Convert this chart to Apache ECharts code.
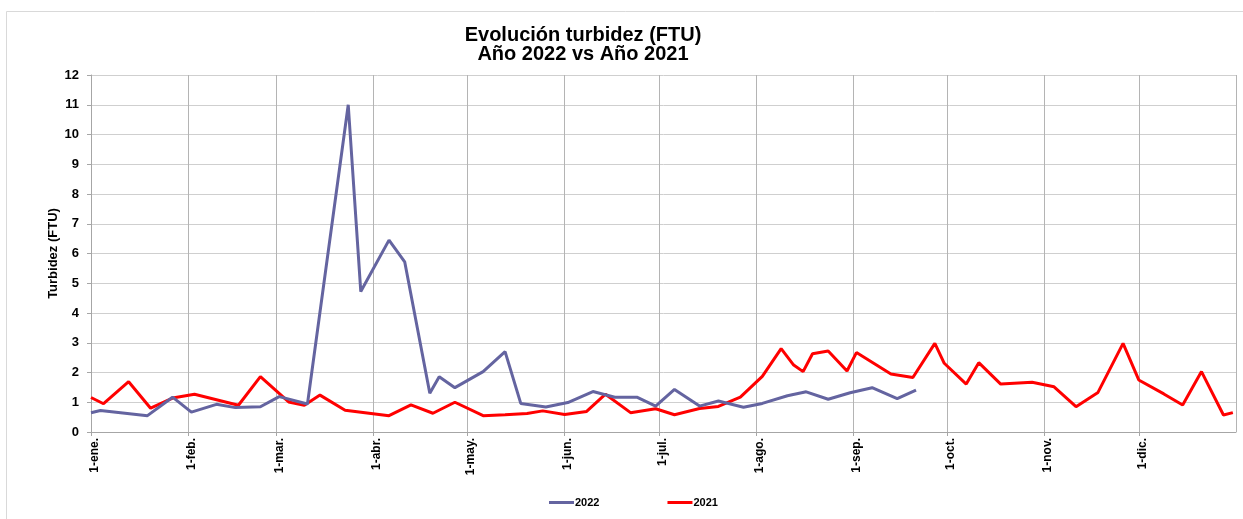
<!DOCTYPE html>
<html>
<head>
<meta charset="utf-8">
<script src="https://cdn.jsdelivr.net/npm/echarts@6/dist/echarts.min.js"></script>
<style>
html,body{margin:0;padding:0;background:#fff;}
#chart{width:1243px;height:519px;}
</style>
</head>
<body>
<div id="chart"></div>
<script>
// Month tick labels (Spanish abbreviations)
const monthLabels = ['ene.', 'feb.', 'mar.', 'abr.', 'may.', 'jun.', 'jul.', 'ago.', 'sep.', 'oct.', 'nov.', 'dic.'];

// Series names
const seriesNames = ['2022', '2021'];

// 2022 readings (month-day) and turbidity values (FTU)
const dates2022 = ['01-01','01-04','01-19','01-27','02-02','02-10','02-16','02-24','03-02','03-11',
  '03-24','03-28','04-06','04-11','04-19','04-22','04-27','05-06','05-13','05-18',
  '05-26','06-02','06-10','06-17','06-24','06-30','07-06','07-14','07-20','07-28',
  '08-03','08-11','08-17','08-24','08-31','09-07','09-15','09-21'];
const values2022 = [0.65,0.72,0.55,1.17,0.67,0.93,0.82,0.85,1.19,0.94,
  11.0,4.72,6.45,5.72,1.30,1.86,1.49,2.03,2.70,0.96,
  0.84,0.99,1.36,1.17,1.17,0.87,1.43,0.87,1.04,0.83,
  0.96,1.22,1.35,1.10,1.32,1.49,1.12,1.41];

// 2021 readings (month-day) and turbidity values (FTU)
const dates2021 = ['01-01','01-05','01-13','01-20','01-27','02-03','02-17','02-24','03-05','03-10',
  '03-15','03-23','03-30','04-06','04-13','04-20','04-27','05-06','05-13','05-20',
  '05-25','06-01','06-08','06-14','06-22','06-30','07-06','07-14','07-20','07-27',
  '08-03','08-09','08-13','08-16','08-19','08-24','08-30','09-02','09-13','09-20',
  '09-27','09-30','10-07','10-11','10-18','10-28','11-04','11-11','11-18','11-26',
  '12-01','12-09','12-15','12-21','12-28','12-31'];
const values2021 = [1.16,0.95,1.69,0.80,1.14,1.27,0.90,1.86,1.01,0.90,
  1.24,0.73,0.64,0.55,0.91,0.63,1.00,0.55,0.58,0.62,
  0.71,0.59,0.69,1.27,0.65,0.78,0.58,0.79,0.86,1.17,
  1.87,2.80,2.25,2.03,2.63,2.72,2.05,2.67,1.95,1.83,
  2.98,2.31,1.61,2.33,1.61,1.67,1.52,0.85,1.33,2.98,
  1.75,1.28,0.91,2.03,0.57,0.65];

// Both years are plotted over a common Jan–Dec axis
const BASE_YEAR = 2022;
function toTime(md) {
  const p = md.split('-');
  return new Date(BASE_YEAR, parseInt(p[0], 10) - 1, parseInt(p[1], 10)).getTime();
}
function pairs(dates, vals) {
  return dates.map((d, i) => [toTime(d), vals[i]]);
}

const FONT = 'Liberation Sans, Arial, sans-serif';
const DAY = 86400000;

const chart = echarts.init(document.getElementById('chart'), null, {renderer: 'canvas'});
chart.setOption({
  animation: false,
  backgroundColor: '#ffffff',
  graphic: [{
    type: 'rect', left: 4, top: 9, silent: true, z: -10,
    shape: {width: 1260, height: 530},
    style: {fill: 'none', stroke: '#d9d9d9', lineWidth: 1}
  }],
  title: {
    text: 'Evolución turbidez (FTU)\nAño 2022 vs Año 2021',
    left: 578, top: 21, textAlign: 'center',
    textStyle: {fontFamily: FONT, fontSize: 20, fontWeight: 'bold', color: '#000', lineHeight: 19}
  },
  legend: {
    data: seriesNames,
    left: 544, top: 492,
    itemGap: 68, itemWidth: 25, itemHeight: 3, icon: 'rect',
    textStyle: {fontFamily: FONT, fontSize: 11, fontWeight: 'bold', color: '#000', padding: [0, 0, 0, -4]}
  },
  grid: {left: 91, right: 7, top: 75, bottom: 87, containLabel: false},
  xAxis: {
    type: 'time',
    min: new Date(BASE_YEAR, 0, 1).getTime(),
    max: new Date(BASE_YEAR + 1, 0, 1).getTime(),
    minInterval: 28 * DAY,
    maxInterval: 31 * DAY,
    axisLine: {show: true, lineStyle: {color: '#a6a6a6', width: 1}},
    axisTick: {show: true, length: 4, lineStyle: {color: '#a6a6a6'}},
    splitLine: {show: true, lineStyle: {color: '#b4b4b4', width: 1}},
    axisLabel: {
      rotate: 90, fontFamily: FONT, fontSize: 12, fontWeight: 'bold', color: '#000',
      margin: 6, showMaxLabel: false, hideOverlap: false, padding: [7, 0, 0, 0],
      formatter: function (v) {
        const d = new Date(v);
        return d.getDate() + '-' + monthLabels[d.getMonth()];
      }
    }
  },
  yAxis: {
    type: 'value',
    min: 0, max: 12, interval: 1,
    name: 'Turbidez (FTU)',
    nameLocation: 'middle', nameRotate: 90, nameGap: 31, nameMoveOverlap: false,
    nameTextStyle: {fontFamily: FONT, fontSize: 13, fontWeight: 'bold', color: '#000'},
    axisLine: {show: true, lineStyle: {color: '#a6a6a6', width: 1}},
    axisTick: {show: true, length: 4, lineStyle: {color: '#a6a6a6'}},
    splitLine: {show: true, lineStyle: {color: '#cfcfcf', width: 1}},
    axisLabel: {fontFamily: FONT, fontSize: 13, fontWeight: 'bold', color: '#000', margin: 12}
  },
  series: [
    {
      name: seriesNames[0], type: 'line', data: pairs(dates2022, values2022),
      showSymbol: false, symbol: 'none', smooth: false,
      lineStyle: {color: '#6464a0', width: 3}, itemStyle: {color: '#6464a0'}, z: 3
    },
    {
      name: seriesNames[1], type: 'line', data: pairs(dates2021, values2021),
      showSymbol: false, symbol: 'none', smooth: false,
      lineStyle: {color: '#ff0000', width: 3}, itemStyle: {color: '#ff0000'}, z: 2
    }
  ]
});
</script>
</body>
</html>
